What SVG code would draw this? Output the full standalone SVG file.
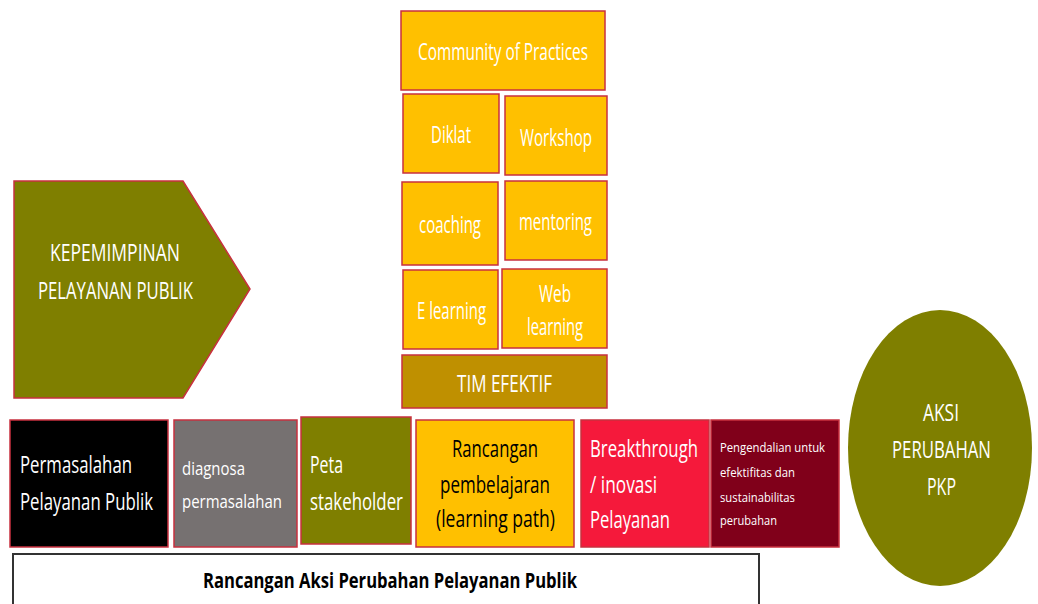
<svg xmlns="http://www.w3.org/2000/svg" width="1038" height="604" viewBox="0 0 1038 604">
  <style>
    .box { stroke: #c8303f; stroke-width: 1.5; }
    .gold { fill: #ffc000; }
    .olive { fill: #7f7f00; }
    .t { font-family: "Open Sans", "Noto Sans", "Liberation Sans", sans-serif; fill: #ffffff; }
    .lg { font-size: 23px; }
    .sm { font-size: 13.5px; }
    .dark { fill: #000000; }
  </style>
  <rect width="1038" height="604" fill="#ffffff"/>

  <!-- leadership chevron -->
  <g id="kepemimpinan">
    <polygon class="box olive" points="14,181 183,181 250,289 183,398 14,398"/>
    <text class="t lg" x="50" y="261" textLength="130" lengthAdjust="spacingAndGlyphs">KEPEMIMPINAN</text>
    <text class="t lg" x="38" y="299" textLength="155" lengthAdjust="spacingAndGlyphs">PELAYANAN PUBLIK</text>
  </g>

  <!-- learning modes stack -->
  <g id="community">
    <rect class="box gold" x="401" y="11" width="204" height="79"/>
    <text class="t lg" x="418" y="60" textLength="170" lengthAdjust="spacingAndGlyphs">Community of Practices</text>
  </g>
  <g id="diklat">
    <rect class="box gold" x="403" y="94" width="96" height="79"/>
    <text class="t lg" x="431" y="143" textLength="40" lengthAdjust="spacingAndGlyphs">Diklat</text>
  </g>
  <g id="workshop">
    <rect class="box gold" x="505" y="96" width="102" height="79"/>
    <text class="t lg" x="520" y="146" textLength="72" lengthAdjust="spacingAndGlyphs">Workshop</text>
  </g>
  <g id="coaching">
    <rect class="box gold" x="402" y="182" width="96" height="83"/>
    <text class="t lg" x="419" y="233" textLength="62" lengthAdjust="spacingAndGlyphs">coaching</text>
  </g>
  <g id="mentoring">
    <rect class="box gold" x="505" y="181" width="102" height="79"/>
    <text class="t lg" x="519" y="230" textLength="73" lengthAdjust="spacingAndGlyphs">mentoring</text>
  </g>
  <g id="elearning">
    <rect class="box gold" x="403" y="270" width="95" height="79"/>
    <text class="t lg" x="417" y="319" textLength="69" lengthAdjust="spacingAndGlyphs">E learning</text>
  </g>
  <g id="weblearning">
    <rect class="box gold" x="502" y="269" width="105" height="79"/>
    <text class="t lg" x="539" y="302" textLength="32" lengthAdjust="spacingAndGlyphs">Web</text>
    <text class="t lg" x="527" y="335" textLength="56" lengthAdjust="spacingAndGlyphs">learning</text>
  </g>
  <g id="tim-efektif">
    <rect class="box" x="402" y="355" width="205" height="53" fill="#bf9000"/>
    <text class="t lg" x="457" y="392" textLength="95" lengthAdjust="spacingAndGlyphs">TIM EFEKTIF</text>
  </g>

  <!-- process row -->
  <g id="permasalahan">
    <rect class="box" x="10" y="420" width="158" height="127" fill="#000000"/>
    <text class="t lg" x="20" y="473" textLength="112" lengthAdjust="spacingAndGlyphs">Permasalahan</text>
    <text class="t lg" x="20" y="510" textLength="133" lengthAdjust="spacingAndGlyphs">Pelayanan Publik</text>
  </g>
  <g id="diagnosa">
    <rect class="box" x="174" y="420" width="123" height="127" fill="#767171"/>
    <text class="t" font-size="19" x="182" y="475" textLength="63" lengthAdjust="spacingAndGlyphs">diagnosa</text>
    <text class="t" font-size="19" x="182" y="508" textLength="100" lengthAdjust="spacingAndGlyphs">permasalahan</text>
  </g>
  <g id="peta">
    <rect class="box olive" x="301" y="417" width="110" height="127"/>
    <text class="t lg" x="310" y="473" textLength="33" lengthAdjust="spacingAndGlyphs">Peta</text>
    <text class="t lg" x="310" y="510" textLength="93" lengthAdjust="spacingAndGlyphs">stakeholder</text>
  </g>
  <g id="rancangan-pembelajaran">
    <rect class="box gold" x="416" y="420" width="158" height="127"/>
    <text class="t lg dark" x="452" y="457" textLength="86" lengthAdjust="spacingAndGlyphs">Rancangan</text>
    <text class="t lg dark" x="440" y="493" textLength="110" lengthAdjust="spacingAndGlyphs">pembelajaran</text>
    <text class="t lg dark" x="436" y="527" textLength="119" lengthAdjust="spacingAndGlyphs">(learning path)</text>
  </g>
  <g id="breakthrough">
    <rect class="box" x="581" y="420" width="128" height="127" fill="#f5193b"/>
    <text class="t lg" x="590" y="457" textLength="108" lengthAdjust="spacingAndGlyphs">Breakthrough</text>
    <text class="t lg" x="590" y="493" textLength="67" lengthAdjust="spacingAndGlyphs">/ inovasi</text>
    <text class="t lg" x="590" y="528" textLength="80" lengthAdjust="spacingAndGlyphs">Pelayanan</text>
  </g>
  <g id="pengendalian">
    <rect class="box" x="711" y="420" width="128" height="127" fill="#80001a"/>
    <text class="t sm" x="720" y="452" textLength="105" lengthAdjust="spacingAndGlyphs">Pengendalian untuk</text>
    <text class="t sm" x="720" y="477" textLength="75" lengthAdjust="spacingAndGlyphs">efektifitas dan</text>
    <text class="t sm" x="720" y="502" textLength="75" lengthAdjust="spacingAndGlyphs">sustainabilitas</text>
    <text class="t sm" x="720" y="525" textLength="57" lengthAdjust="spacingAndGlyphs">perubahan</text>
  </g>

  <!-- outcome -->
  <g id="aksi-perubahan">
    <ellipse cx="940" cy="448" rx="92" ry="138" fill="#7f7f00"/>
    <text class="t lg" x="923" y="421" textLength="36" lengthAdjust="spacingAndGlyphs">AKSI</text>
    <text class="t lg" x="892" y="458" textLength="99" lengthAdjust="spacingAndGlyphs">PERUBAHAN</text>
    <text class="t lg" x="927" y="495" textLength="29" lengthAdjust="spacingAndGlyphs">PKP</text>
  </g>

  <!-- overall plan bar -->
  <g id="rancangan-aksi">
    <rect x="13" y="554" width="746" height="60" fill="#ffffff" stroke="#333333" stroke-width="2"/>
    <text class="t dark" font-size="21" font-weight="bold" x="203" y="588" textLength="374" lengthAdjust="spacingAndGlyphs">Rancangan Aksi Perubahan Pelayanan Publik</text>
  </g>

  <g id="connectors"/>
</svg>
